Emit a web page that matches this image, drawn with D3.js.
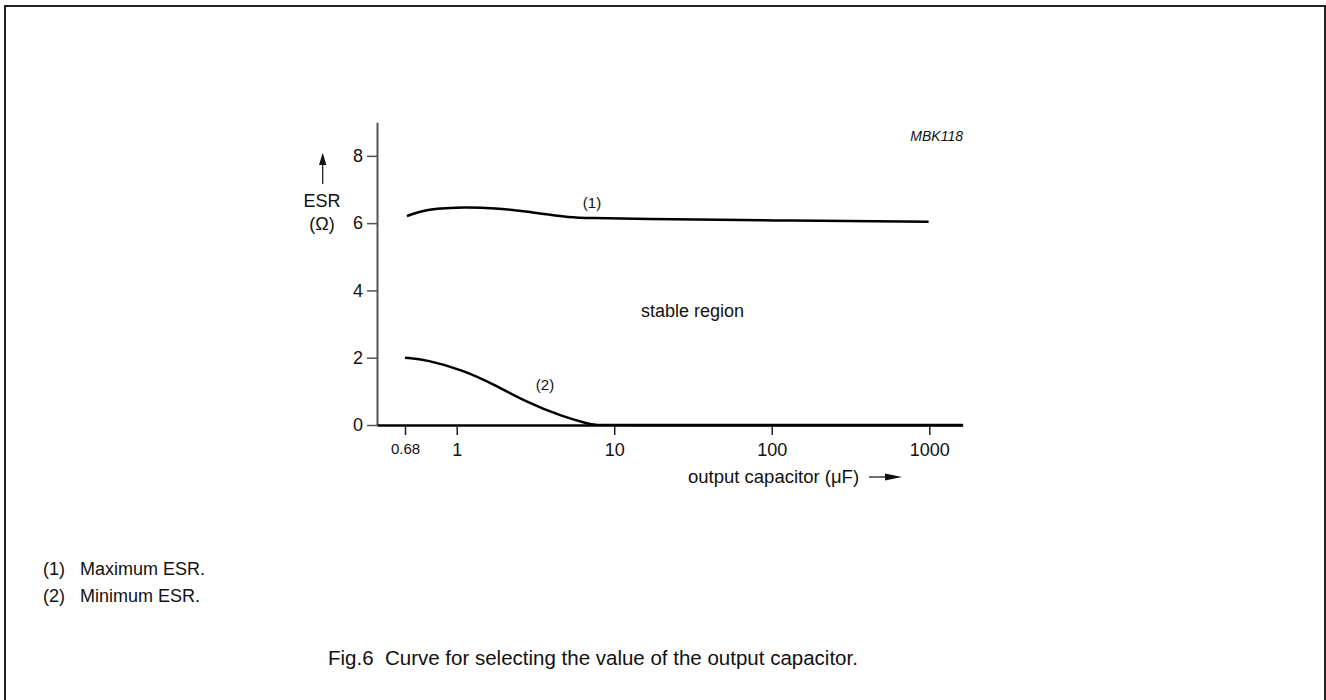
<!DOCTYPE html>
<html>
<head>
<meta charset="utf-8">
<script src="https://cdn.jsdelivr.net/npm/d3@7"></script>
<style>
  body { margin: 0; background: #fff; }
  text { font-family: "Liberation Sans", Arial, sans-serif; fill: #111; }
</style>
</head>
<body>
<div id="chart"></div>
<script>
// curve (1): maximum ESR
var maxCap = [0.69, 0.76, 0.85, 1.1, 1.75, 2.8, 4, 5, 7, 13.5, 100, 990];
var maxEsr = [6.21, 6.35, 6.43, 6.48, 6.45, 6.35, 6.24, 6.18, 6.15, 6.13, 6.08, 6.04];
// curve (2): minimum ESR
var minCap = [0.68, 0.8, 1.1, 1.75, 2.8, 4.7, 6.8, 7.6, 9, 1630];
var minEsr = [2.0, 1.94, 1.63, 1.19, 0.67, 0.25, 0.04, 0, 0, 0];

var xTicks = [0.68, 1, 10, 100, 1000];
var xTickLabels = ["0.68", "1", "10", "100", "1000"];
var yTicks = [0, 2, 4, 6, 8];
var notes = ["(1)", "(2)"];
var noteText = ["Maximum ESR.", "Minimum ESR."];

var svg = d3.select("#chart")
    .append("svg")
    .attr("width", 1326)
    .attr("height", 700);

// frame (bottom edge runs off the page)
svg.append("rect")
    .attr("x", 5)
    .attr("y", 6)
    .attr("width", 1320)
    .attr("height", 720)
    .attr("fill", "none")
    .attr("stroke", "#222")
    .attr("stroke-width", 2);

// the 0.68 tick sits on its own stretch of axis, so the log scale is piecewise
var x = d3.scaleLog()
    .domain([0.5, 0.68, 1, 1630])
    .range([377, 405, 456.7, 962.7]);

var y = d3.scaleLinear()
    .domain([0, 9])
    .range([425, 122.2]);

var yAxis = svg.append("g")
    .attr("transform", "translate(377,0)")
    .call(d3.axisLeft(y).tickValues(yTicks).tickSize(10).tickSizeOuter(0).tickPadding(4));
yAxis.select(".domain").attr("stroke", "#555").attr("stroke-width", 2);
yAxis.selectAll(".tick line").attr("stroke", "#555").attr("stroke-width", 1.5);
yAxis.selectAll(".tick text").attr("font-size", 18).attr("fill", "#111");

var xAxis = svg.append("g")
    .attr("transform", "translate(0,425)")
    .call(d3.axisBottom(x).tickValues(xTicks).tickSize(10).tickSizeOuter(0).tickPadding(8)
        .tickFormat(function(d, i) { return xTickLabels[i]; }));
xAxis.select(".domain").attr("stroke", "#000").attr("stroke-width", 2.5);
xAxis.selectAll(".tick line").attr("stroke", "#222").attr("stroke-width", 1.5);
xAxis.selectAll(".tick text")
    .attr("font-size", function(d) { return d < 1 ? 15 : 18; })
    .attr("fill", "#111");

var line = d3.line()
    .x(function(d) { return x(d[0]); })
    .y(function(d) { return y(d[1]); })
    .curve(d3.curveBasis);

svg.append("path")
    .datum(d3.zip(maxCap, maxEsr))
    .attr("d", line)
    .attr("fill", "none")
    .attr("stroke", "#000")
    .attr("stroke-width", 2.5);

svg.append("path")
    .datum(d3.zip(minCap, minEsr))
    .attr("d", line)
    .attr("fill", "none")
    .attr("stroke", "#000")
    .attr("stroke-width", 2.5);

// curve labels
svg.append("text").attr("x", 592).attr("y", 208).attr("font-size", 15)
    .attr("text-anchor", "middle").text("(1)");
svg.append("text").attr("x", 545).attr("y", 390).attr("font-size", 15)
    .attr("text-anchor", "middle").text("(2)");

svg.append("text").attr("x", 641).attr("y", 317).attr("font-size", 18).text("stable region");

svg.append("text").attr("x", 963).attr("y", 141).attr("font-size", 14)
    .attr("font-style", "italic").attr("text-anchor", "end").text("MBK118");

// y label with arrow
svg.append("line")
    .attr("x1", 322.7).attr("y1", 184)
    .attr("x2", 322.7).attr("y2", 163)
    .attr("stroke", "#222").attr("stroke-width", 1.3);
svg.append("path")
    .attr("d", "M322.7,152.7 L319,165 L326.4,165 Z")
    .attr("fill", "#111");
svg.append("text").attr("x", 322).attr("y", 207).attr("font-size", 18)
    .attr("text-anchor", "middle").text("ESR");
svg.append("text").attr("x", 322).attr("y", 230).attr("font-size", 18)
    .attr("text-anchor", "middle").text("(\u03A9)");

// x label with arrow
svg.append("text").attr("x", 688).attr("y", 483).attr("font-size", 18.5)
    .text("output capacitor (\u03BCF)");
svg.append("line")
    .attr("x1", 869).attr("y1", 477)
    .attr("x2", 890).attr("y2", 477)
    .attr("stroke", "#222").attr("stroke-width", 1.3);
svg.append("path")
    .attr("d", "M902,477 L885,473.5 L885,480.5 Z")
    .attr("fill", "#111");

// notes
var noteRows = svg.selectAll("g.note")
    .data(notes)
    .enter()
    .append("g")
    .attr("class", "note");

noteRows.append("text")
    .attr("x", 43)
    .attr("y", function(d, i) { return 575 + 26.7 * i; })
    .attr("font-size", 18)
    .text(function(d) { return d; });

noteRows.append("text")
    .attr("x", 80)
    .attr("y", function(d, i) { return 575 + 26.7 * i; })
    .attr("font-size", 18)
    .text(function(d, i) { return noteText[i]; });

svg.append("text").attr("x", 328).attr("y", 665).attr("font-size", 20.5)
    .attr("xml:space", "preserve")
    .text("Fig.6  Curve for selecting the value of the output capacitor.");
</script>
</body>
</html>
